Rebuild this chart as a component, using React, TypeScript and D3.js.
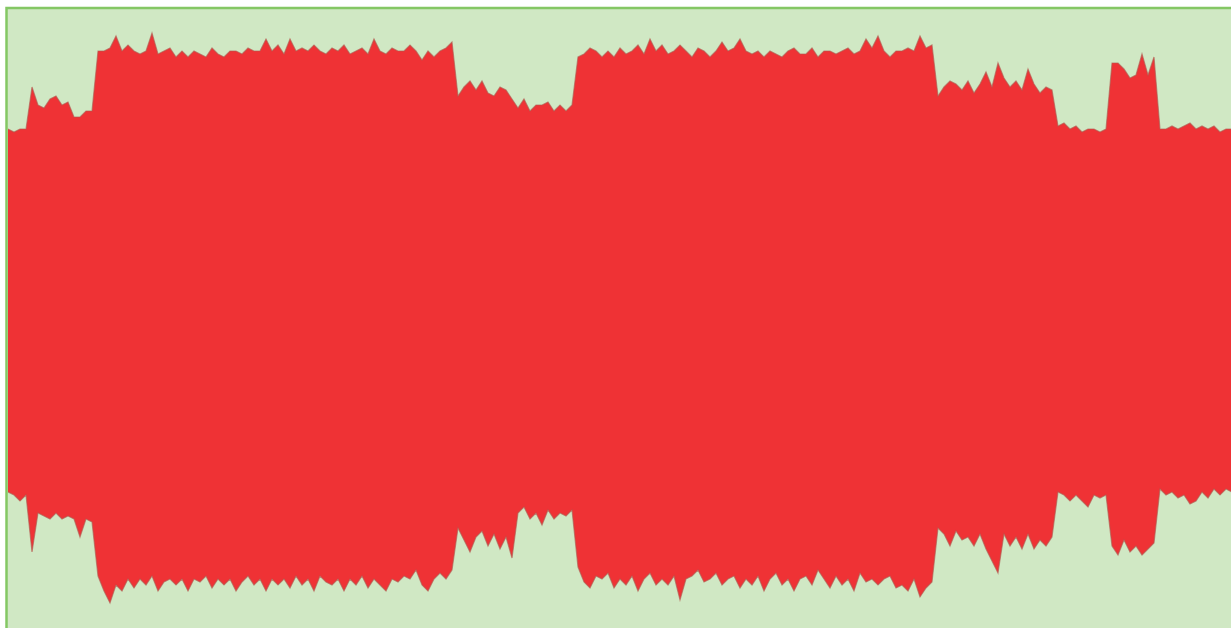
import * as d3 from "d3";

const W = 1231;
const H = 628;

// waveform envelope, percent of full scale, one sample per time step
const upper = [
  61, 60, 61, 61, 75, 69, 68, 71, 72, 69, 70, 65, 65, 67, 67, 87, 87, 88, 92, 87,
  89, 87, 86, 87, 93, 86, 87, 88, 85, 87, 85, 87, 86, 85, 88, 86, 85, 87, 87, 86,
  88, 87, 87, 91, 87, 89, 86, 91, 87, 88, 87, 89, 87, 86, 88, 87, 89, 86, 87, 88,
  86, 91, 87, 86, 88, 87, 87, 89, 87, 84, 87, 85, 87, 88, 90, 72, 75, 77, 74, 77,
  73, 72, 75, 74, 71, 68, 71, 67, 69, 69, 70, 67, 69, 67, 69, 85, 86, 88, 87, 85,
  87, 85, 88, 86, 87, 89, 86, 91, 87, 89, 86, 87, 89, 87, 85, 88, 87, 85, 87, 90,
  87, 88, 91, 87, 86, 87, 85, 87, 86, 85, 87, 88, 86, 86, 88, 85, 87, 87, 86, 87,
  88, 86, 87, 91, 88, 92, 87, 85, 87, 87, 88, 87, 92, 88, 89, 72, 75, 77, 76, 74,
  77, 73, 76, 80, 75, 83, 78, 75, 77, 74, 81, 76, 73, 75, 74, 62, 63, 61, 62, 60,
  61, 61, 60, 61, 83, 83, 81, 78, 79, 86, 79, 85, 61, 61, 62, 61, 62, 63, 61, 62,
  61, 62, 60, 61, 61,
];

const lower = [
  -60, -61, -63, -61, -80, -67, -68, -69, -67, -69, -68, -69, -75, -69, -70, -88, -93, -97, -91, -93,
  -89, -92, -89, -91, -88, -93, -90, -89, -91, -89, -93, -89, -90, -88, -92, -89, -91, -89, -93, -90,
  -88, -91, -89, -93, -89, -91, -89, -92, -88, -91, -89, -93, -88, -90, -91, -89, -93, -89, -91, -88,
  -92, -89, -91, -93, -89, -90, -88, -89, -86, -91, -93, -89, -87, -89, -86, -72, -76, -80, -75, -73,
  -78, -74, -79, -75, -82, -67, -65, -69, -67, -71, -66, -69, -67, -68, -66, -85, -90, -92, -88, -89,
  -87, -92, -89, -91, -88, -93, -89, -87, -91, -89, -91, -88, -96, -89, -88, -86, -90, -89, -87, -91,
  -89, -88, -92, -89, -91, -88, -93, -89, -87, -91, -89, -93, -89, -88, -91, -86, -89, -92, -88, -91,
  -89, -93, -87, -90, -89, -91, -89, -88, -92, -91, -93, -89, -95, -92, -90, -72, -74, -78, -73, -76,
  -75, -78, -74, -79, -83, -87, -74, -78, -75, -79, -74, -79, -76, -78, -75, -60, -61, -63, -61, -63,
  -65, -61, -62, -61, -78, -81, -76, -80, -78, -81, -79, -77, -59, -61, -60, -62, -61, -64, -63, -60,
  -62, -59, -61, -59, -60,
];

const BG = "#d0e8c4";
const FRAME = "#84c764";
const WAVE = "#ef3235";
const EDGE = "#b05a50";

export default function App() {
  const n = upper.length;
  const x = d3.scaleLinear().domain([0, n - 1]).range([8, 1232]);
  const y = d3.scaleLinear().domain([-100, 100]).range([612, 12]);

  const area = d3
    .area<number>()
    .x((_, i) => x(i))
    .y0((_, i) => y(lower[i]))
    .y1((d) => y(d));
  const line = d3.line<number>().x((_, i) => x(i)).y((d) => y(d));

  return (
    <svg width={W} height={H} style={{ position: "absolute", left: 0, top: 0, display: "block" }}>
      <defs>
        <clipPath id="plot">
          <rect x={8} y={9} width={W} height={H} />
        </clipPath>
      </defs>
      <rect x={0} y={0} width={W} height={H} fill="#fff" />
      {/* panel, only its left and top edges fall inside the crop */}
      <rect x={6.5} y={8} width={W + 20} height={H + 20} fill={BG} stroke={FRAME} strokeWidth={2.5} />
      <g clipPath="url(#plot)">
        <path d={area(upper) ?? ""} fill={WAVE} />
        <path d={line(upper) ?? ""} fill="none" stroke={EDGE} strokeWidth={1.2} strokeOpacity={0.65} />
        <path d={line(lower) ?? ""} fill="none" stroke={EDGE} strokeWidth={1.2} strokeOpacity={0.65} />
      </g>
    </svg>
  );
}
